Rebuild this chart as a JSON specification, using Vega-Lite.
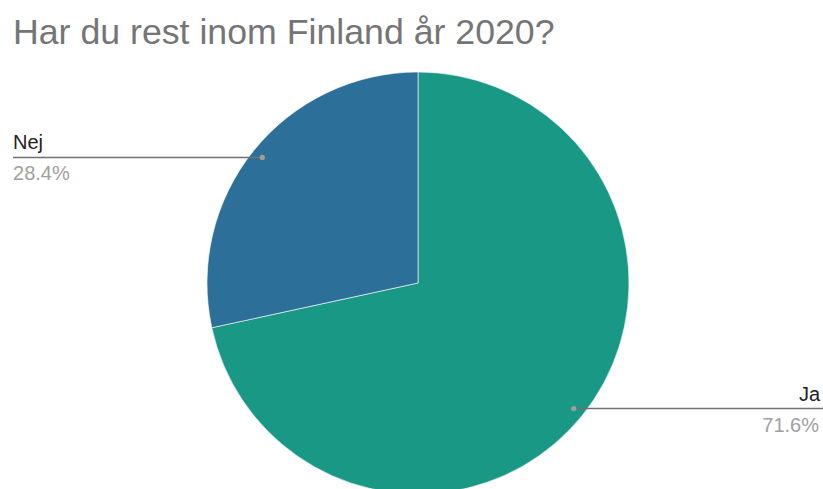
{
  "$schema": "https://vega.github.io/schema/vega-lite/v6.json",
  "width": 823,
  "height": 429,
  "autosize": {"type": "none"},
  "padding": {"top": 60, "left": 0, "right": 0, "bottom": 0},
  "background": "white",
  "config": {"view": {"stroke": null}, "font": "Liberation Sans"},
  "title": {
    "text": "Har du rest inom Finland år 2020?",
    "anchor": "start",
    "frame": "group",
    "fontSize": 35.7,
    "fontWeight": "normal",
    "font": "Liberation Sans",
    "color": "#757575",
    "baseline": "alphabetic",
    "offset": -20,
    "dx": 13
  },
  "data": {
    "values": [
      {"answer": "Ja", "value": 0.716},
      {"answer": "Nej", "value": 0.284}
    ]
  },
  "layer": [
    {
      "mark": {"type": "arc", "outerRadius": 211, "stroke": "#ffffff", "strokeWidth": 0.6},
      "encoding": {
        "x": {"datum": 0, "type": "quantitative", "scale": {"domain": [-1.98104, 1.91943], "nice": false, "zero": false}, "axis": null},
        "y": {"datum": 0, "type": "quantitative", "scale": {"domain": [-0.9763, 1.05687], "nice": false, "zero": false}, "axis": null},
        "theta": {"field": "value", "type": "quantitative", "stack": true},
        "order": {"field": "answer", "sort": "ascending"},
        "color": {"field": "answer", "type": "nominal", "scale": {"domain": ["Ja", "Nej"], "range": ["#1a9886", "#2c6f99"]}, "legend": null}
      }
    },
    {
      "transform": [
        {"stack": "value", "groupby": [], "as": ["v0", "v1"], "sort": [{"field": "answer", "order": "ascending"}]},
        {"joinaggregate": [{"op": "sum", "field": "value", "as": "total"}]},
        {"calculate": "PI * (datum.v0 + datum.v1) / datum.total", "as": "ang"},
        {"calculate": "0.948 * sin(datum.ang)", "as": "px"},
        {"calculate": "0.948 * cos(datum.ang)", "as": "py"},
        {"calculate": "datum.px < 0 ? -1.9194 : 1.91943", "as": "ex"}
      ],
      "layer": [
        {
          "mark": {"type": "rule", "color": "#707070", "strokeWidth": 1.5},
          "encoding": {
            "x": {"field": "px", "type": "quantitative"},
            "x2": {"field": "ex"},
            "y": {"field": "py", "type": "quantitative"}
          }
        },
        {
          "mark": {"type": "point", "filled": true, "size": 28, "color": "#9e9e9e", "opacity": 1},
          "encoding": {
            "x": {"field": "px", "type": "quantitative"},
            "y": {"field": "py", "type": "quantitative"}
          }
        },
        {
          "transform": [{"filter": "datum.px < 0"}],
          "layer": [
            {
              "mark": {"type": "text", "align": "left", "baseline": "alphabetic", "dy": -8, "fontSize": 20, "color": "#212121"},
              "encoding": {
                "x": {"field": "ex", "type": "quantitative"},
                "y": {"field": "py", "type": "quantitative"},
                "text": {"field": "answer"}
              }
            },
            {
              "mark": {"type": "text", "align": "left", "baseline": "alphabetic", "dy": 23, "fontSize": 20, "color": "#a0a0a0"},
              "encoding": {
                "x": {"field": "ex", "type": "quantitative"},
                "y": {"field": "py", "type": "quantitative"},
                "text": {"field": "value", "format": ".1%"}
              }
            }
          ]
        },
        {
          "transform": [{"filter": "datum.px >= 0"}],
          "layer": [
            {
              "mark": {"type": "text", "align": "right", "baseline": "alphabetic", "dx": -3, "dy": -8, "fontSize": 20, "color": "#212121"},
              "encoding": {
                "x": {"field": "ex", "type": "quantitative"},
                "y": {"field": "py", "type": "quantitative"},
                "text": {"field": "answer"}
              }
            },
            {
              "mark": {"type": "text", "align": "right", "baseline": "alphabetic", "dx": -4, "dy": 23, "fontSize": 20, "color": "#a0a0a0"},
              "encoding": {
                "x": {"field": "ex", "type": "quantitative"},
                "y": {"field": "py", "type": "quantitative"},
                "text": {"field": "value", "format": ".1%"}
              }
            }
          ]
        }
      ]
    }
  ]
}
